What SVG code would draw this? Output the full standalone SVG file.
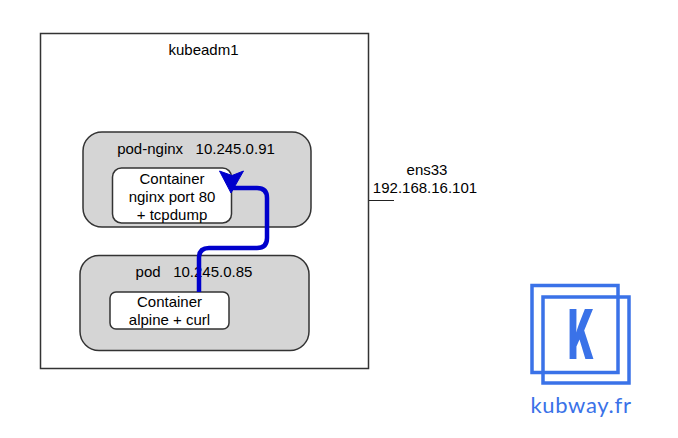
<svg xmlns="http://www.w3.org/2000/svg" width="678" height="438" viewBox="0 0 678 438">
<style>
text{font-family:"Liberation Sans",Arial,sans-serif;font-size:15px;fill:#000;text-anchor:middle}
.b{stroke:#333;stroke-width:1.5}
.pod{fill:#d5d5d5}
.c{fill:#fff}
.logo{fill:none;stroke:#3a72e8;stroke-width:3.5}
</style>
<rect width="678" height="438" fill="#fff"/>
<g id="kubeadm1"><rect class="b" x="40.500" y="33.500" width="328" height="335" fill="#fff"/><text x="203.500" y="55">kubeadm1</text></g>
<g id="ens33"><path d="M369 200.500H394" stroke="#222" stroke-width="1" fill="none"/><text x="427" y="174.500">ens33</text><text x="425" y="192.500">192.168.16.101</text></g>
<g id="pod-nginx"><rect class="b pod" x="83" y="132" width="228" height="95" rx="19"/><text x="196" y="153.500" xml:space="preserve">pod-nginx   10.245.0.91</text></g>
<g id="container-nginx"><rect class="b c" x="112.500" y="168" width="119" height="55" rx="9"/><text x="172" y="183.500">Container</text><text x="172" y="201.500">nginx port 80</text><text x="172" y="219.500">+ tcpdump</text></g>
<g id="pod"><rect class="b pod" x="80" y="255.500" width="229" height="95" rx="19"/><text x="194" y="277" xml:space="preserve">pod   10.245.0.85</text></g>
<g id="container-alpine"><rect class="b c" x="110" y="292" width="119" height="37" rx="6"/><text x="169.500" y="307">Container</text><text x="169.500" y="325">alpine + curl</text></g>
<g id="connectors"><path d="M199 292V258Q199 248 209 248H257Q267 248 267 238V198Q267 188 257 188H232" fill="none" stroke="#0000cc" stroke-width="4.500"/><path d="M219.500 171L232 175.500L243.500 171L231 193Z" fill="#0000cc" stroke="#0000cc"/></g>
<g id="logo"><rect class="logo" x="532" y="285.500" width="86" height="87"/><rect class="logo" x="543" y="297" width="86" height="86"/><text transform="translate(581 359) scale(.5 1)" style="font-family:Inter,'DejaVu Sans',sans-serif;font-size:69px;font-weight:900;fill:#3a72e8">K</text><text x="581" y="412.500" style="font-family:Lato,sans-serif;font-size:22px;fill:#3a72e8;letter-spacing:.7px">kubway.fr</text></g>
</svg>
